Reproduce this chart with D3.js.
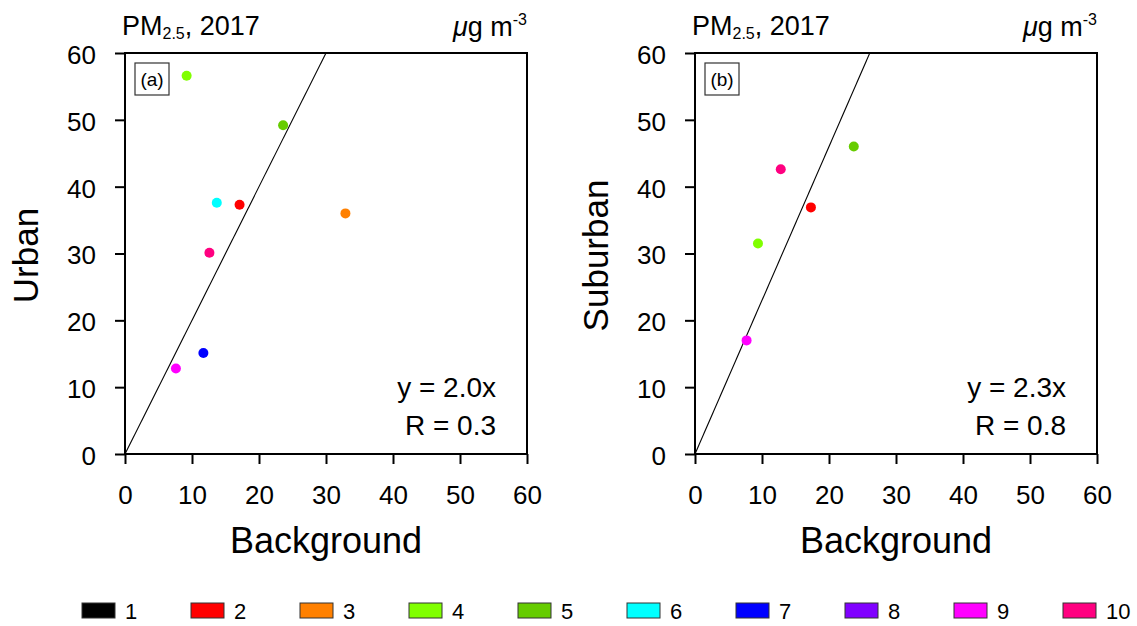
<!DOCTYPE html>
<html>
<head>
<meta charset="utf-8">
<script src="https://cdn.jsdelivr.net/npm/d3@7"></script>
<style>
  html, body { margin: 0; padding: 0; background: #fff; }
  svg { display: block; font-family: "Liberation Sans", Arial, Helvetica, sans-serif; }
</style>
</head>
<body>
<svg id="chart" width="1137" height="626"></svg>
<script>
// ---------- data ----------
const categories = ["1", "2", "3", "4", "5", "6", "7", "8", "9", "10"];
const categoryColors = ["#000000", "#ff0000", "#ff8000", "#80ff00", "#66cc00",
                        "#00ffff", "#0000ff", "#8000ff", "#ff00ff", "#ff0080"];

// Panel (a): Urban vs Background
const urbanSites = ["4", "5", "6", "2", "3", "10", "7", "9"];
const urbanBackground = [9.2, 23.6, 13.7, 17.1, 32.9, 12.6, 11.7, 7.6];
const urbanValues = [56.6, 49.2, 37.6, 37.3, 36.0, 30.1, 15.1, 12.8];

// Panel (b): Suburban vs Background
const suburbanSites = ["5", "10", "2", "4", "9"];
const suburbanBackground = [23.7, 12.8, 17.3, 9.4, 7.7];
const suburbanValues = [46.0, 42.6, 36.9, 31.5, 17.0];

const panelLetters = ["(a)", "(b)"];
const panelYLabels = ["Urban", "Suburban"];
const panelSlopes = [2.0, 2.3];
const panelR = [0.3, 0.8];
const xTicks = [0, 10, 20, 30, 40, 50, 60];
const yTicks = [0, 10, 20, 30, 40, 50, 60];
const axisDomain = [0, 60];

// ---------- layout ----------
const svg = d3.select("#chart");
const plotW = 402, plotH = 401, plotTop = 53;
const panelLefts = [125, 695];
const color = d3.scaleOrdinal().domain(categories).range(categoryColors);

const panels = [
  { sites: urbanSites, xs: urbanBackground, ys: urbanValues },
  { sites: suburbanSites, xs: suburbanBackground, ys: suburbanValues }
];

panels.forEach((p, i) => {
  const left = panelLefts[i];
  const g = svg.append("g").attr("transform", `translate(${left},${plotTop})`);
  const x = d3.scaleLinear().domain(axisDomain).range([0, plotW]);
  const y = d3.scaleLinear().domain(axisDomain).range([plotH, 0]);

  // axes
  const ya = g.append("g").call(d3.axisLeft(y).tickValues(yTicks).tickSize(10).tickPadding(19).tickFormat(d3.format("d")));
  const xa = g.append("g").attr("transform", `translate(0,${plotH})`)
    .call(d3.axisBottom(x).tickValues(xTicks).tickSize(10).tickPadding(22).tickFormat(d3.format("d")));
  [ya, xa].forEach(a => {
    a.select(".domain").remove();
    a.selectAll(".tick line").attr("stroke", "#000").attr("stroke-width", 2);
    a.selectAll(".tick text").attr("fill", "#000").style("font-size", "26px")
      .style("font-family", "'Liberation Sans', Arial, sans-serif");
  });
  ya.selectAll(".tick text").attr("dy", "0.4em");
  xa.selectAll(".tick text").attr("dy", "0.69em");

  // regression line through origin, clipped at top of frame
  const yMax = axisDomain[1];
  const xEnd = Math.min(axisDomain[1], yMax / panelSlopes[i]);
  g.append("line")
    .attr("x1", x(0)).attr("y1", y(0))
    .attr("x2", x(xEnd)).attr("y2", y(xEnd * panelSlopes[i]))
    .attr("stroke", "#000").attr("stroke-width", 1.1);

  // frame
  g.append("rect").attr("x", 0).attr("y", 0).attr("width", plotW).attr("height", plotH)
    .attr("fill", "none").attr("stroke", "#000").attr("stroke-width", 2);

  // points
  g.selectAll("circle.pt").data(p.sites.map((s, k) => ({ s, xv: p.xs[k], yv: p.ys[k] })))
    .enter().append("circle").attr("class", "pt")
    .attr("cx", d => x(d.xv)).attr("cy", d => y(d.yv)).attr("r", 5)
    .attr("fill", d => color(d.s));

  // panel letter box
  g.append("rect").attr("x", 10).attr("y", 10).attr("width", 34).attr("height", 32)
    .attr("fill", "#fff").attr("stroke", "#333").attr("stroke-width", 1.2);
  g.append("text").attr("x", 27).attr("y", 33).attr("text-anchor", "middle")
    .style("font-size", "19px").text(panelLetters[i]);

  // equation and R
  g.append("text").attr("x", plotW - 31).attr("y", 344).attr("text-anchor", "end")
    .style("font-size", "28px").text(`y = ${panelSlopes[i].toFixed(1)}x`);
  g.append("text").attr("x", plotW - 31).attr("y", 382).attr("text-anchor", "end")
    .style("font-size", "28px").text(`R = ${panelR[i].toFixed(1)}`);

  // title
  const t = g.append("text").attr("x", -3).attr("y", -18).style("font-size", "27px");
  t.append("tspan").text("PM");
  t.append("tspan").attr("dy", 4).style("font-size", "16px").text("2.5");
  t.append("tspan").attr("dy", -4).text(", 2017");

  // units
  const u = g.append("text").attr("x", plotW).attr("y", -17).attr("text-anchor", "end").style("font-size", "27px");
  u.append("tspan").style("font-style", "italic").text("μ");
  u.append("tspan").text("g m");
  u.append("tspan").attr("dy", -11).style("font-size", "16px").text("-3");

  // axis titles
  g.append("text").attr("x", plotW / 2).attr("y", plotH + 99).attr("text-anchor", "middle")
    .style("font-size", "36px").text("Background");
  g.append("text").attr("transform", `translate(-87,${plotH / 2 + 2}) rotate(-90)`)
    .attr("text-anchor", "middle").style("font-size", "35px").text(panelYLabels[i]);
});

// ---------- legend ----------
const legX0 = 82, legStep = 109, legY = 603;
const leg = svg.append("g");
categories.forEach((c, k) => {
  const lg = leg.append("g").attr("transform", `translate(${legX0 + k * legStep},${legY})`);
  lg.append("rect").attr("width", 33).attr("height", 15)
    .attr("fill", color(c)).attr("stroke", "#333").attr("stroke-width", 1);
  lg.append("text").attr("x", 43).attr("y", 16)
    .style("font-size", "22px")
    .style("font-family", "'Liberation Sans Narrow', 'Liberation Sans', Arial, sans-serif")
    .text(c);
});
</script>
</body>
</html>
